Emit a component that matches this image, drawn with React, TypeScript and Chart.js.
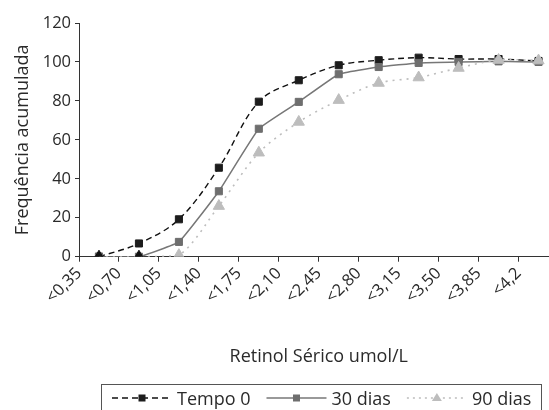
import React, { useEffect, useRef } from 'react';
import { Chart, registerables } from 'chart.js';

Chart.register(...registerables);

const categories = ['<0,35', '<0,70', '<1,05', '<1,40', '<1,75', '<2,10', '<2,45', '<2,80', '<3,15', '<3,50', '<3,85', '<4,2'];
const tempo0 = [0, 6.8, 19.2, 45.7, 79.6, 90.6, 98.3, 100.9, 102.2, 101.5, 101.5, 100.5];
const dias30 = [0, 0, 7.6, 33.6, 65.7, 79.5, 93.7, 97.4, 99.5, 100, 100.3, 100];
const dias90 = [0, 0, 0.8, 26, 53.4, 69.2, 80.4, 89.2, 92, 96.9, 101, 100.7];
const yTicks = [0, 20, 40, 60, 80, 100, 120];
const seriesNames = ['Tempo 0', '30 dias', '90 dias'];

const FONT = '"Open Sans", "DejaVu Sans", sans-serif';
const TEXT = '#2a2a2a';

const C0 = '#1c1c1c';
const C30 = '#6e6e6e';
const C90 = '#bdbdbd';

const toPoints = (arr: number[]) => arr.map((v, i) => ({ x: i + 0.5, y: v }));

const legendPlugin = {
  id: 'boxLegend',
  afterDraw(chart: any) {
    const ctx = chart.ctx as CanvasRenderingContext2D;
    ctx.save();
    ctx.font = `18px ${FONT}`;
    // box
    ctx.strokeStyle = '#555';
    ctx.lineWidth = 1;
    ctx.strokeRect(101.5, 384.5, 440, 30);
    const lineY = 398;
    const textY = 405;
    let x = 112;
    const styles = [
      { color: '#111', fill: C0, dash: [6, 4], shape: 'rect' },
      { color: '#777', fill: C30, dash: [], shape: 'rect' },
      { color: C90, fill: C90, dash: [2, 4], shape: 'tri' },
    ];
    seriesNames.forEach((name, i) => {
      const st = styles[i];
      ctx.beginPath();
      ctx.setLineDash(st.dash);
      ctx.strokeStyle = st.color;
      ctx.lineWidth = 1.5;
      ctx.moveTo(x, lineY);
      ctx.lineTo(x + 60, lineY);
      ctx.stroke();
      ctx.setLineDash([]);
      ctx.fillStyle = st.fill;
      const mx = x + 30;
      if (st.shape === 'rect') {
        ctx.fillRect(mx - 3.5, lineY - 3.5, 7, 7);
      } else {
        ctx.beginPath();
        ctx.moveTo(mx, lineY - 5);
        ctx.lineTo(mx + 5, lineY + 3);
        ctx.lineTo(mx - 5, lineY + 3);
        ctx.closePath();
        ctx.fill();
      }
      ctx.fillStyle = TEXT;
      ctx.textAlign = 'left';
      ctx.textBaseline = 'alphabetic';
      ctx.fillText(name, x + 65, textY);
      x = x + 65 + ctx.measureText(name).width + 16;
    });
    ctx.restore();
  },
};

export default function App() {
  const ref = useRef<HTMLCanvasElement | null>(null);

  useEffect(() => {
    if (!ref.current) return;
    const chart = new Chart(ref.current, {
      type: 'line',
      data: {
        datasets: [
          {
            label: seriesNames[0],
            data: toPoints(tempo0),
            order: 2,
            borderColor: '#111',
            borderWidth: 1.4,
            borderDash: [6, 4],
            tension: 0.35,
            pointStyle: 'rect',
            pointRadius: 5,
            pointBackgroundColor: C0,
            pointBorderColor: C0,
            pointBorderWidth: 1,
            fill: false,
          },
          {
            label: seriesNames[1],
            data: toPoints(dias30),
            order: 1,
            borderColor: '#777',
            borderWidth: 1.5,
            tension: 0.1,
            pointStyle: 'rect',
            pointRadius: 5,
            pointBackgroundColor: C30,
            pointBorderColor: C30,
            pointBorderWidth: 1,
            fill: false,
          },
          {
            label: seriesNames[2],
            data: toPoints(dias90),
            order: 0,
            borderColor: C90,
            borderWidth: 1.6,
            borderDash: [2, 5],
            tension: 0.3,
            pointStyle: 'triangle',
            pointRadius: 6.5,
            pointBackgroundColor: dias90.map((_, i) => (i < 2 ? '#111' : C90)),
            pointBorderColor: dias90.map((_, i) => (i < 2 ? '#111' : C90)),
            pointBorderWidth: 1,
            fill: false,
          },
        ],
      },
      options: {
        animation: false,
        responsive: true,
        maintainAspectRatio: false,
        layout: { padding: { left: 0, right: 0, top: 23, bottom: 0 } },
        plugins: {
          legend: { display: false },
          tooltip: { enabled: false },
        },
        scales: {
          x: {
            type: 'linear',
            min: 0,
            max: categories.length,
            afterBuildTicks: (s: any) => {
              s.ticks = categories.map((_, i) => ({ value: i }));
            },
            afterFit: (s: any) => {
              s.height = 420 - 256.7;
            },
            ticks: {
              autoSkip: false,
              maxRotation: 45,
              minRotation: 45,
              padding: 2,
              color: TEXT,
              font: { family: FONT, size: 16.5 },
              callback: (v: any) => categories[v as number] ?? '',
            },
            grid: {
              drawOnChartArea: false,
              drawTicks: true,
              tickLength: 5,
              color: '#333',
            },
            border: { color: '#333', width: 1 },
            title: {
              display: true,
              text: 'Retinol Sérico umol/L',
              color: TEXT,
              font: { family: FONT, size: 18 },
              padding: { top: 0, bottom: 52 },
            },
          },
          y: {
            min: 0,
            max: 120,
            afterBuildTicks: (s: any) => {
              s.ticks = yTicks.map((v) => ({ value: v }));
            },
            afterFit: (s: any) => {
              s.width = 79;
            },
            ticks: {
              padding: 4,
              color: TEXT,
              font: { family: FONT, size: 16.5 },
            },
            grid: {
              drawOnChartArea: false,
              drawTicks: true,
              tickLength: 4,
              color: '#333',
            },
            border: { color: '#333', width: 1 },
            title: {
              display: true,
              text: 'Frequência acumulada',
              color: TEXT,
              font: { family: FONT, size: 18 },
              padding: { top: 12, bottom: 0 },
            },
          },
        },
      } as any,
      plugins: [legendPlugin],
    });
    return () => chart.destroy();
  }, []);

  return (
    <div style={{ position: 'fixed', left: 0, top: 0, width: 549, height: 410, overflow: 'hidden', background: '#fff' }}>
      <div style={{ position: 'relative', width: 566, height: 420 }}>
        <canvas ref={ref} />
      </div>
    </div>
  );
}
